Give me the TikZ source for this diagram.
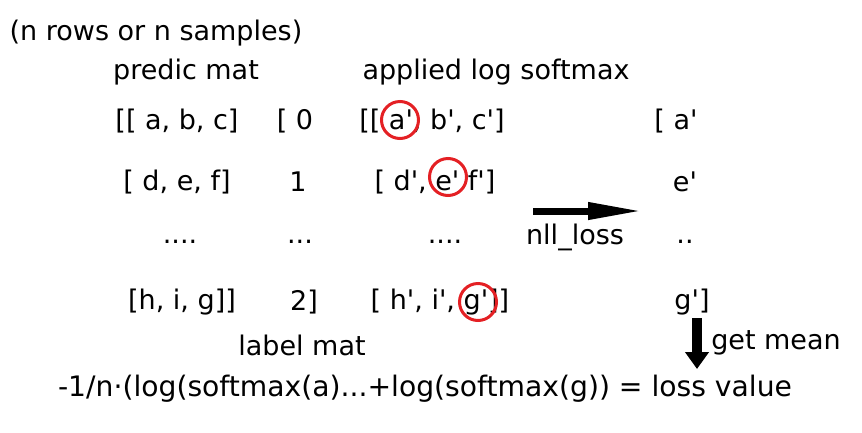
\documentclass[tikz,border=0pt]{standalone}
\usepackage{fontspec}
\setmainfont{DejaVu Sans}
\usetikzlibrary{arrows.meta}
\newcommand\pq{\textquotesingle}
\definecolor{ringred}{RGB}{228,32,36}
\tikzset{
  txt/.style={inner sep=0pt, font=\fontsize{27}{32}\selectfont},
  ring/.style={draw=ringred, line width=3pt, circle, minimum size=37pt, inner sep=0pt},
  bigarrow/.style={line width=7pt, -{Triangle[length=55pt,width=16pt]}},
  downarrow/.style={line width=10pt, -{Triangle[length=17pt,width=23pt]}}
}
\begin{document}
\begin{tikzpicture}[x=1pt,y=-1pt]
\useasboundingbox (0,0) rectangle (862,432);
\node[txt] (title) at (156,33) {(n rows or n samples)};
\node[txt] (pm) at (186,72) {predic mat};
\node[txt] (als) at (496,72) {applied log softmax};
% row 1
\node[txt] (p1) at (177,121) {[[ a, b, c]};
\node[txt] (l1) at (295,121) {[ 0};
\node[txt] (s1) at (432,121) {[[ a\pq, b\pq, c\pq]};
\node[txt] (o1) at (676,121) {[ a\pq};
% row 2
\node[txt] (p2) at (177,182) {[ d, e, f]};
\node[txt] (l2) at (298,182) {1};
\node[txt] (s2) at (435,182) {[ d\pq, e\pq\ f\pq]};
\node[txt] (o2) at (685,182) {e\pq};
% row 3
\node[txt] (p3) at (180,242) {....};
\node[txt] (l3) at (300,242) {...};
\node[txt] (s3) at (445,242) {....};
\node[txt] (o3) at (685,242) {..};
% row 4
\node[txt] (p4) at (182,302) {[h, i, g]]};
\node[txt] (l4) at (304,302) {2]};
\node[txt] (s4) at (440,302) {[ h\pq, i\pq, g\pq]]};
\node[txt] (o4) at (692,302) {g\pq]};
\node[txt] (lm) at (302,345) {label mat};
% circles
\node[ring] (c1) at (400,120) {};
\node[ring] (c2) at (448,177) {};
\node[ring] (c3) at (478,302) {};
% nll arrow
\coordinate (h1) at (533,211);
\coordinate (h2) at (643,211);
\draw[bigarrow] (h1) -- (h2);
\node[txt] (nll) at (575,237) {nll\_loss};
% mean arrow
\coordinate (v1) at (697,318);
\coordinate (v2) at (697,369);
\draw[downarrow] (v1) -- (v2);
\node[txt] (gm) at (776,343) {get mean};
\node[txt, font=\fontsize{28.2}{33}\selectfont] (f) at (425,389) {-1/n·(log(softmax(a)...+log(softmax(g)) = loss value};
\end{tikzpicture}
\end{document}
